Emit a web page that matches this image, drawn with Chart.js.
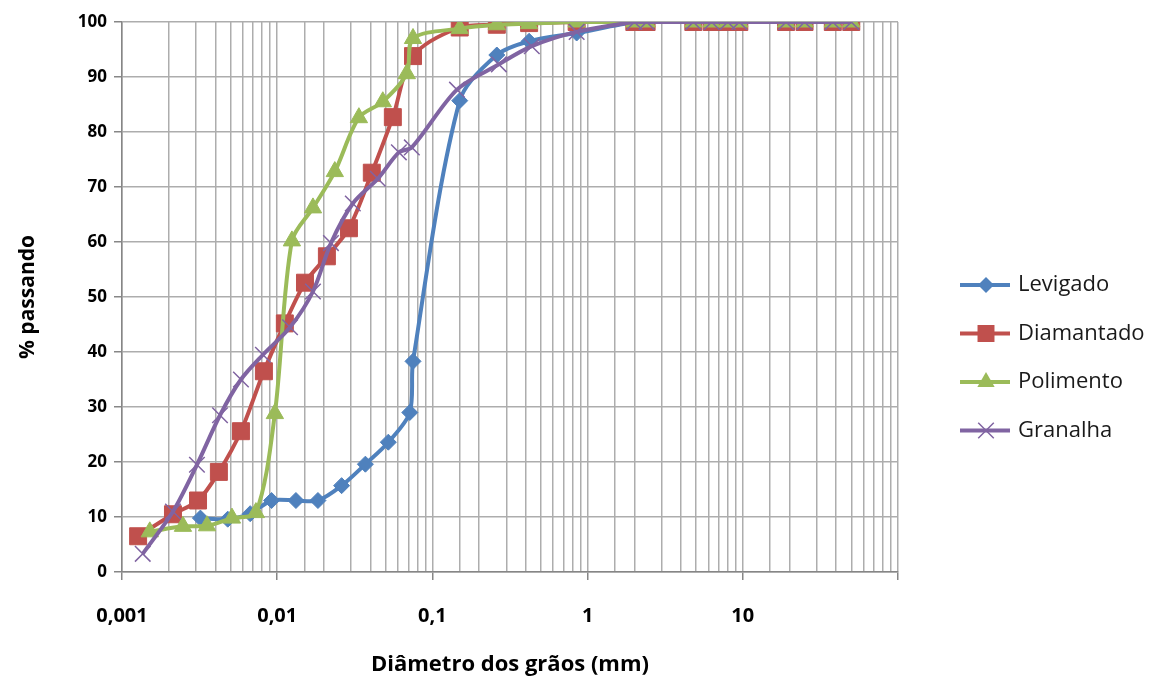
<!DOCTYPE html>
<html>
<head>
<meta charset="utf-8">
<script src="https://cdn.jsdelivr.net/npm/chart.js@4.4.0/dist/chart.umd.min.js"></script>
<style>
  html, body { margin: 0; padding: 0; background: #fff; }
  #wrap { width: 1164px; height: 682px; }
</style>
</head>
<body>
<div id="wrap"><canvas id="curveChart" width="1164" height="682"></canvas></div>
<script>
// curvas granulometricas
var seriesNames = ['Levigado', 'Diamantado', 'Polimento', 'Granalha'];

var levigadoX = [0.0032, 0.0048, 0.0067, 0.0092, 0.0132, 0.0183, 0.026, 0.037, 0.052, 0.0715, 0.075, 0.15, 0.26, 0.42, 0.85, 2.0, 2.4, 4.8, 6.3, 8.0, 9.5, 19, 25, 38, 50];
var levigadoY = [9.8, 9.6, 10.6, 13, 13, 13, 15.7, 19.6, 23.6, 29, 38.3, 85.7, 94, 96.5, 98, 100, 100, 100, 100, 100, 100, 100, 100, 100, 100];

var diamantadoX = [0.00127, 0.00213, 0.00309, 0.00421, 0.00584, 0.00821, 0.0112, 0.0151, 0.0209, 0.029, 0.0407, 0.0556, 0.075, 0.15, 0.26, 0.42, 0.85, 2.0, 2.4, 4.8, 6.3, 8.0, 9.5, 19, 25, 38, 50];
var diamantadoY = [6.5, 10.5, 13, 18.2, 25.6, 36.5, 45.2, 52.6, 57.4, 62.5, 72.6, 82.7, 93.8, 99.0, 99.5, 99.8, 100, 100, 100, 100, 100, 100, 100, 100, 100, 100, 100];

var polimentoX = [0.00151, 0.00247, 0.00353, 0.00511, 0.00729, 0.00966, 0.01244, 0.017, 0.0235, 0.0336, 0.0479, 0.0684, 0.075, 0.15, 0.26, 0.42, 0.85, 2.0, 2.4, 4.8, 6.3, 8.0, 9.5, 19, 25, 38, 50];
var polimentoY = [7.3, 8.3, 8.4, 9.8, 10.8, 28.8, 60.2, 66.2, 72.8, 82.6, 85.5, 90.6, 97, 98.8, 99.5, 99.7, 100, 100, 100, 100, 100, 100, 100, 100, 100, 100, 100];

var granalhaX = [0.00136, 0.00213, 0.00304, 0.00428, 0.00584, 0.00809, 0.0121, 0.017, 0.0222, 0.0307, 0.0445, 0.0608, 0.0737, 0.144, 0.268, 0.437, 0.85, 2.0, 2.4, 4.8, 6.3, 8.0, 9.5, 19, 25, 38, 50];
var granalhaY = [3.3, 11, 19.5, 28.5, 35, 39.5, 44.5, 51, 59.8, 67, 71.5, 76.3, 77.2, 87.7, 92.3, 95.6, 98.2, 100, 100, 100, 100, 100, 100, 100, 100, 100, 100];

var xTickValues = [0.001, 0.01, 0.1, 1, 10];
var xTickLabels = ['0,001', '0,01', '0,1', '1', '10'];

var seriesColors = ['#4F81BD', '#C0504D', '#9BBB59', '#8064A2'];
var seriesMarkers = ['rectRot', 'rect', 'triangle', 'crossRot'];
var markerSizes = [8, 12, 10, 11];

var xTickFont = { family: 'Open Sans', size: 20, weight: 'bold' };
var yTickFont = { family: 'Open Sans', size: 17, weight: 'bold' };
var gridColor = '#adadad';
var axisColor = '#868686';

function toPoints(xs, ys) {
    var pts = [];
    for (var i = 0; i < xs.length; i++) {
        pts.push({ x: xs[i], y: ys[i] });
    }
    return pts;
}

function isDecade(v) {
    var l = Math.log10(v);
    return Math.abs(l - Math.round(l)) < 1e-6;
}

function xLabel(v) {
    for (var i = 0; i < xTickValues.length; i++) {
        if (Math.abs(v - xTickValues[i]) / xTickValues[i] < 1e-6) return xTickLabels[i];
    }
    return '';
}

var allX = [levigadoX, diamantadoX, polimentoX, granalhaX];
var allY = [levigadoY, diamantadoY, polimentoY, granalhaY];

var datasets = [];
for (var i = 0; i < seriesNames.length; i++) {
    datasets.push({
        label: seriesNames[i],
        data: toPoints(allX[i], allY[i]),
        borderColor: seriesColors[i],
        backgroundColor: seriesColors[i],
        pointBackgroundColor: seriesColors[i],
        pointBorderColor: seriesColors[i],
        pointStyle: seriesMarkers[i],
        pointRadius: markerSizes[i],
        pointHoverRadius: markerSizes[i],
        pointBorderWidth: i == 3 ? 1.5 : 1,
        borderWidth: 4,
        tension: 0.3,
        order: 3 - i   // excel draws the last series on top
    });
}

function drawMarker(ctx, style, x, y, r) {
    ctx.beginPath();
    if (style == 'rectRot') {
        ctx.moveTo(x, y - r); ctx.lineTo(x + r, y); ctx.lineTo(x, y + r); ctx.lineTo(x - r, y);
        ctx.closePath(); ctx.fill();
    } else if (style == 'rect') {
        var s = r * Math.SQRT1_2;
        ctx.rect(x - s, y - s, 2 * s, 2 * s); ctx.fill();
    } else if (style == 'triangle') {
        ctx.moveTo(x, y - r);
        ctx.lineTo(x + r * Math.sin(2 * Math.PI / 3), y + r / 2);
        ctx.lineTo(x - r * Math.sin(2 * Math.PI / 3), y + r / 2);
        ctx.closePath(); ctx.fill();
    } else {
        var d = r * Math.SQRT1_2;
        ctx.lineWidth = 1.5;
        ctx.moveTo(x - d, y - d); ctx.lineTo(x + d, y + d);
        ctx.moveTo(x + d, y - d); ctx.lineTo(x - d, y + d);
        ctx.stroke();
    }
}

// legenda no estilo do excel: linha com marcador
var lineLegend = {
    id: 'lineLegend',
    afterDraw: function (chart) {
        var ctx = chart.ctx;
        var x0 = 960, len = 50, textX = 1018, y0 = 285, gap = 48.5;
        ctx.save();
        for (var i = 0; i < chart.data.datasets.length; i++) {
            var ds = chart.data.datasets[i];
            var y = y0 + i * gap;
            ctx.strokeStyle = ds.borderColor;
            ctx.fillStyle = ds.borderColor;
            ctx.lineWidth = 4;
            ctx.beginPath();
            ctx.moveTo(x0, y); ctx.lineTo(x0 + len, y);
            ctx.stroke();
            drawMarker(ctx, ds.pointStyle, x0 + len / 2 + 1, y, ds.pointRadius);
            ctx.fillStyle = '#1a1a1a';
            ctx.font = '22px "Open Sans"';
            ctx.textBaseline = 'middle';
            ctx.textAlign = 'left';
            ctx.fillText(ds.label, textX, y);
        }
        ctx.restore();
    }
};

var whiteBg = {
    id: 'whiteBg',
    beforeDraw: function (chart) {
        var ctx = chart.ctx;
        ctx.save();
        ctx.fillStyle = '#ffffff';
        ctx.fillRect(0, 0, chart.width, chart.height);
        ctx.restore();
    }
};

var chartElement = document.getElementById('curveChart').getContext('2d');
var curveChart = new Chart(chartElement, {
    type: 'line',
    data: { datasets: datasets },
    options: {
        responsive: false,
        animation: false,
        layout: {
            padding: { top: 22, right: 266, bottom: 0, left: 0 }
        },
        plugins: {
            legend: { display: false },
            tooltip: { enabled: false }
        },
        scales: {
            x: {
                type: 'logarithmic',
                min: 0.001,
                max: 100,
                border: { display: true, color: axisColor, width: 1.5 },
                grid: {
                    color: gridColor,
                    lineWidth: 1.5,
                    tickLength: 8,
                    tickColor: function (c) {
                        return (c.tick && isDecade(c.tick.value)) ? axisColor : 'rgba(0,0,0,0)';
                    }
                },
                ticks: {
                    autoSkip: false,
                    maxRotation: 0,
                    padding: 24,
                    color: '#000',
                    font: xTickFont,
                    callback: function (v) { return xLabel(v); }
                },
                title: {
                    display: true,
                    text: 'Diâmetro dos grãos (mm)',
                    color: '#000',
                    font: { family: 'Open Sans', size: 22, weight: 'bold' },
                    padding: { top: 0, bottom: 4 }
                },
                afterFit: function (s) { s.height = 110; }
            },
            y: {
                min: 0,
                max: 100,
                border: { display: true, color: axisColor, width: 1.5 },
                grid: {
                    color: gridColor,
                    lineWidth: 1.5,
                    tickLength: 8,
                    tickColor: axisColor
                },
                ticks: {
                    stepSize: 10,
                    padding: 7,
                    color: '#000',
                    font: yTickFont
                },
                title: {
                    display: true,
                    text: '% passando',
                    color: '#000',
                    font: { family: 'Open Sans', size: 21, weight: 'bold' },
                    padding: { top: 15, bottom: 0 }
                },
                afterFit: function (s) { s.width = 122; }
            }
        }
    },
    plugins: [whiteBg, lineLegend]
});
</script>
</body>
</html>
